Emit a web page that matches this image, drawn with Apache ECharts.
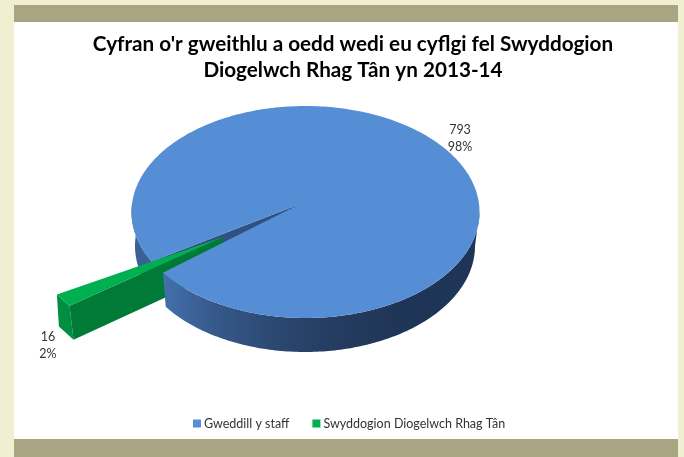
<!DOCTYPE html>
<html><head><meta charset="utf-8">
<style>html,body{margin:0;padding:0;background:#f0efd2}#c{width:684px;height:457px}</style>
<script src="https://cdn.jsdelivr.net/npm/echarts@6/dist/echarts.min.js"></script>
</head><body><div id="c"></div>
<script>
const titleLines = ["Cyfran o'r gweithlu a oedd wedi eu cyflgi fel Swyddogion", "Diogelwch Rhag Tân yn 2013-14"];
const categories = ["Gweddill y staff", "Swyddogion Diogelwch Rhag Tân"];
const values = [793, 16];
const colors = ["#558ed5", "#00b050"];

const total = values[0] + values[1];
const pct = v => Math.round(v / total * 100) + '%';
const P = {cx:305.5, cy:212, rx:174, ry:106, bcx:305, bcy:246, brx:170, bry:106,
           ax:300, ay:204, depth:34, t0:145,
           gx:223, gy:237, gsx:1.12, gsy:1.0};
const span = values[1] / total * 360;
const rad = d => d * Math.PI / 180;
const rimTop = t => [P.cx + P.rx * Math.cos(rad(t)), P.cy + P.ry * Math.sin(rad(t))];
const rimBot = t => [P.bcx + P.brx * Math.cos(rad(t)), P.bcy + P.bry * Math.sin(rad(t))];
const arc = (f, a, b) => { const o = [], n = Math.max(2, Math.ceil(Math.abs(b - a))); for (let i = 0; i <= n; i++) o.push(f(a + (b - a) * i / n)); return o; };
const poly = (points, fill) => ({type:'polygon', shape:{points}, style:{fill}});
const greenOuter = t => { const p = rimTop(t); return [P.gx + (p[0] - P.ax) * P.gsx, P.gy + (p[1] - P.ay) * P.gsy]; };
const t1 = P.t0 + span;

function blueBackWalls() {
  const left = arc(rimTop, t1, 185).concat(arc(rimBot, 185, t1));
  const rim = rimTop(t1);
  const inner = [[P.ax, P.ay], rim, [rim[0], rim[1] + P.depth], [P.ax, P.ay + P.depth]];
  return {type:'group', children:[poly(left, '#3a6196'), poly(inner, '#2f5184')]};
}
function blueFrontWall() {
  const front = arc(rimTop, 0, P.t0).concat(arc(rimBot, P.t0, 0));
  const grad = new echarts.graphic.LinearGradient(0, 0, 1, 0, [
    {offset:0, color:'#4470ab'}, {offset:0.16, color:'#36598c'}, {offset:0.33, color:'#2c4a74'},
    {offset:0.5, color:'#263e63'}, {offset:0.75, color:'#1f3557'}, {offset:1, color:'#1f3557'}]);
  return poly(front, grad);
}
function greenWalls() {
  const a = greenOuter(P.t0), b = greenOuter(t1);
  const wall = [[P.gx, P.gy], a, [a[0] + 4, a[1] + P.depth], [P.gx, P.gy + P.depth]];
  const end = [a, b, [b[0] + 2, b[1] + 32], [a[0] + 4, a[1] + P.depth]];
  return {type:'group', children:[poly(end, '#008f41'), poly(wall, '#007a37')]};
}
const labelStyle = {fill:'#333', font:'12.5px Lato', align:'center', verticalAlign:'middle', lineHeight:17};
function blueTop() {
  const pts = [[P.ax, P.ay]].concat(arc(rimTop, P.t0, t1 - 360));
  return {type:'group', children:[poly(pts, colors[0]),
    {type:'text', x:460, y:138.5, style:Object.assign({text:values[0] + '\n' + pct(values[0])}, labelStyle)}]};
}
function greenTop() {
  const pts = [[P.gx, P.gy], greenOuter(P.t0), greenOuter(t1)];
  return {type:'group', children:[poly(pts, colors[1]),
    {type:'text', x:48, y:345, style:Object.assign({text:values[1] + '\n' + pct(values[1])}, labelStyle)}]};
}
const layer = (idx, z, fn) => ({type:'custom', coordinateSystem:'none', name:categories[idx], z, silent:true,
  itemStyle:{color:colors[idx]}, data:[values[idx]], renderItem:fn, animation:false});

const chart = echarts.init(document.getElementById('c'), null, {renderer:'canvas'});
chart.setOption({
  animation:false,
  backgroundColor:'#f0efd2',
  graphic:[
    {type:'rect', z:-2, shape:{x:14, y:5, width:664, height:452}, style:{fill:'#ffffff'}},
    {type:'rect', z:-1, shape:{x:14, y:5, width:664, height:17}, style:{fill:'#a9a582'}},
    {type:'rect', z:-1, shape:{x:14, y:439, width:664, height:18}, style:{fill:'#a9a582'}}
  ],
  title:{text:titleLines.join('\n'), left:348, textAlign:'center', top:26,
    textStyle:{fontFamily:'Lato', fontWeight:'bold', fontSize:20.7, color:'#000', lineHeight:26}},
  legend:{left:188, top:412, icon:'rect', itemWidth:8, itemHeight:8, itemGap:23,
    textStyle:{fontFamily:'Lato', fontSize:12.5, color:'#333', padding:[0,0,0,-2]},
    data:categories.map((name, i) => ({name, itemStyle:{color:colors[i]}}))},
  series:[layer(0,1,blueBackWalls), layer(1,2,greenWalls), layer(0,3,blueFrontWall), layer(0,4,blueTop), layer(1,5,greenTop)]
});
</script></body></html>
